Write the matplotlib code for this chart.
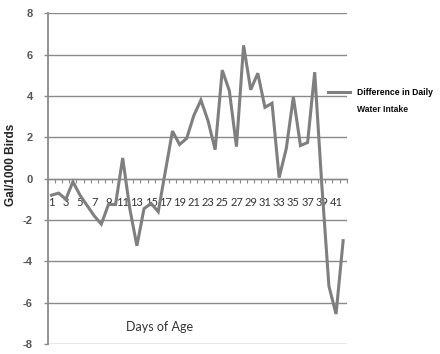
import matplotlib
matplotlib.use("Agg")
import matplotlib.pyplot as plt
import numpy as np

days = list(range(1, 43))
diff_intake = [-0.8, -0.7, -1.0, -0.15, -0.8, -1.3, -1.8, -2.2, -1.25, -1.25,
               1.0, -1.45, -3.25, -1.45, -1.2, -1.6, 0.35, 2.3, 1.65, 1.95,
               3.05, 3.8, 2.8, 1.4, 5.25, 4.25, 1.55, 6.45, 4.3, 5.1,
               3.45, 3.65, 0.05, 1.45, 3.95, 1.6, 1.75, 5.15, -0.3, -5.2,
               -6.55, -3.0]
y_ticks = [-8, -6, -4, -2, 0, 2, 4, 6, 8]
x_labels = [str(d) if d % 2 == 1 else "" for d in days]
series_name = "Difference in Daily Water Intake"

W, H = 440, 354
fig = plt.figure(figsize=(W / 100, H / 100), dpi=100)
ax = fig.add_axes([48 / W, 1 - 344 / H, (346.7 - 48) / W, (344 - 13.3) / H])

grid_c = "#8a8a8a"
ax.set_ylim(-8, 8)
ax.set_xlim(0.5, len(days) + 0.5)
ax.set_yticks(y_ticks)
ax.set_yticklabels([str(v) for v in y_ticks], fontfamily="Liberation Sans",
                   fontweight="bold", fontsize=8, color="#555555")
ax.yaxis.grid(True, color=grid_c, lw=1.0)
ax.set_axisbelow(True)
ax.tick_params(axis="y", length=3, width=1, color=grid_c, pad=8)

for s in ["top", "right"]:
    ax.spines[s].set_visible(False)
ax.spines["left"].set_color(grid_c)
ax.spines["left"].set_linewidth(1.3)
ax.spines["bottom"].set_position(("data", 0))
ax.spines["bottom"].set_color(grid_c)
ax.spines["bottom"].set_linewidth(1.0)

ax.set_xticks(days)
ax.set_xticklabels(x_labels, fontfamily="Lato", fontsize=8, color="#333333")
ax.set_xticks(np.arange(0.5, len(days) + 1, 1.0), minor=True)
ax.tick_params(axis="x", which="major", length=0, pad=13)
ax.tick_params(axis="x", which="minor", length=3, width=0.8, color=grid_c,
               direction="out")

line, = ax.plot(days, diff_intake, color="#7f7f7f", lw=2.2, clip_on=False,
                solid_joinstyle="miter")

fig.text(11 / W, 1 - 165 / H, "Gal/1000 Birds", rotation=90, ha="center",
         va="center", fontfamily="Liberation Sans", fontweight="bold",
         fontsize=8.5, color="#222222")
fig.text(160 / W, 1 - 326.7 / H, "Days of Age", ha="center", va="center",
         fontfamily="Lato", fontsize=9, color="#333333")

first, second = "Difference in Daily", "Water Intake"
leg = fig.legend([line], [first], loc="center left",
                 bbox_to_anchor=(328 / W, 1 - 92.7 / H), frameon=False,
                 borderpad=0, borderaxespad=0, handlelength=2.6,
                 handletextpad=0.8,
                 prop={"family": "Liberation Sans", "weight": "bold", "size": 6.2})
fig.text(356.7 / W, 1 - 110 / H, second, ha="left", va="center",
         fontfamily="Liberation Sans", fontweight="bold", fontsize=6.2,
         color="#111111")

fig.savefig("out.png", dpi=100)
